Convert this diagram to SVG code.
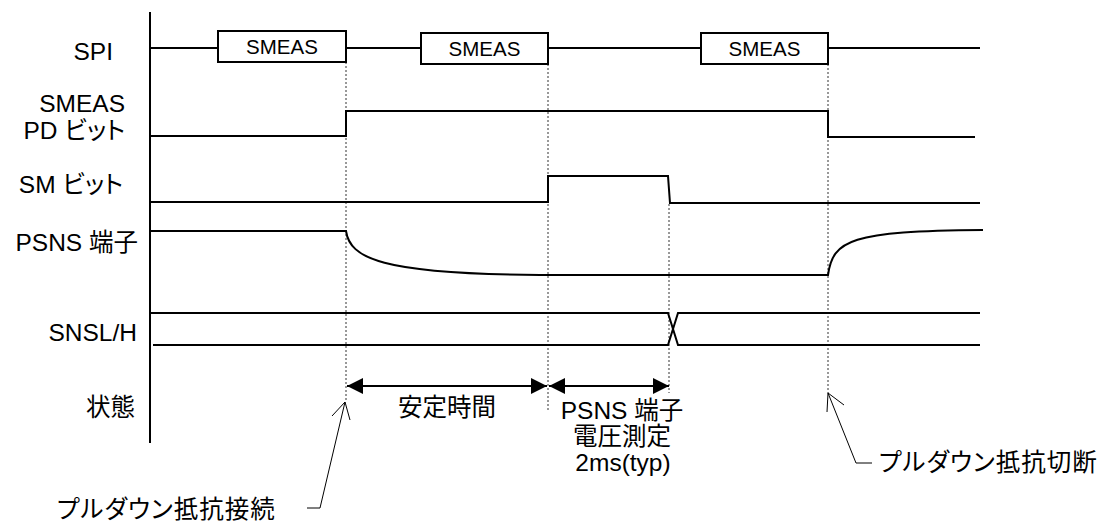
<svg xmlns="http://www.w3.org/2000/svg" width="1109" height="522" viewBox="0 0 1109 522">
<style>
.t{font-family:"Liberation Sans","Noto Sans CJK JP",sans-serif;font-size:24.5px;fill:#000;font-feature-settings:"palt";}
.bx{font-family:"Liberation Sans","Noto Sans CJK JP",sans-serif;font-size:20.5px;fill:#000;text-anchor:middle;}
.e{text-anchor:end;}
.m{text-anchor:middle;}
.sig{fill:none;stroke:#000;stroke-width:2;}
.box{fill:#fff;stroke:#000;stroke-width:2;}
.dot{fill:none;stroke:#333;stroke-width:1;stroke-dasharray:2 2;}
.lead{fill:none;stroke:#000;stroke-width:1;}
.dim{fill:none;stroke:#000;stroke-width:2;marker-start:url(#ah);marker-end:url(#ah);}
</style>
<defs>
<marker id="ah" markerUnits="userSpaceOnUse" markerWidth="16" markerHeight="16" viewBox="0 0 15 15" refX="15" refY="7.5" orient="auto-start-reverse">
<path d="M0,0 L15,7.5 L0,15 z" fill="#000"/>
</marker>
</defs>
<rect width="1109" height="522" fill="#fff"/>
<g id="axis"><line x1="150" y1="12" x2="150" y2="443" class="sig"/></g>
<g id="labels">
<text class="t e" x="113" y="60">SPI</text>
<text class="t e" x="125" y="112">SMEAS</text>
<text class="t e" x="125" y="139">PD ビット</text>
<text class="t e" x="123" y="193">SM ビット</text>
<text class="t e" x="138" y="251">PSNS 端子</text>
<text class="t e" x="137" y="341">SNSL/H</text>
<text class="t e" x="135" y="416">状態</text>
</g>
<g id="guides">
<line x1="346" y1="62" x2="346" y2="401" class="dot"/>
<line x1="548" y1="64" x2="548" y2="410" class="dot"/>
<line x1="669" y1="204" x2="669" y2="393" class="dot"/>
<line x1="828" y1="64" x2="828" y2="393" class="dot"/>
</g>
<g id="spi">
<path class="sig" d="M150,48 H218 M346,48 H421 M548,48 H701 M828,48 H980"/>
<rect class="box" x="218" y="31" width="128" height="31"/>
<text class="bx" x="282" y="54">SMEAS</text>
<rect class="box" x="421" y="33" width="127" height="31"/>
<text class="bx" x="484.5" y="56">SMEAS</text>
<rect class="box" x="701" y="33" width="127" height="31"/>
<text class="bx" x="764.5" y="56">SMEAS</text>
</g>
<g id="smeas-pd">
<path class="sig" d="M150,136 H346 V111 H828 V137 H975"/>
</g>
<g id="sm-bit">
<path class="sig" d="M150,202 H548 V176 H668 L670,203 H980"/>
</g>
<g id="psns">
<path class="sig" d="M151,231 H346 C350,258 380,274 540,275 L828,275 C833,240 850,231 983,230"/>
</g>
<g id="snsl">
<path class="sig" d="M151,313 H668 L678,345 H980 M153,345 H668 L678,313 H980"/>
</g>
<g id="connectors">
<line class="dim" x1="347" y1="386" x2="547" y2="386"/>
<line class="dim" x1="549" y1="386" x2="669" y2="386"/>
<path class="lead" d="M332,416 L345,402 L350,420 M345,402 L320,508 H307"/>
<path class="lead" d="M827,412 L828,393 L844,405 M828,393 L856,463 H872"/>
</g>
<g id="state-texts">
<text class="t m" x="447" y="416">安定時間</text>
<text class="t m" x="622" y="419">PSNS 端子</text>
<text class="t m" x="622" y="445">電圧測定</text>
<text class="t m" x="623" y="471">2ms(typ)</text>
<text class="t" x="57" y="518" letter-spacing="1">プルダウン抵抗接続</text>
<text class="t" x="879" y="471" letter-spacing="1">プルダウン抵抗切断</text>
</g>
</svg>
